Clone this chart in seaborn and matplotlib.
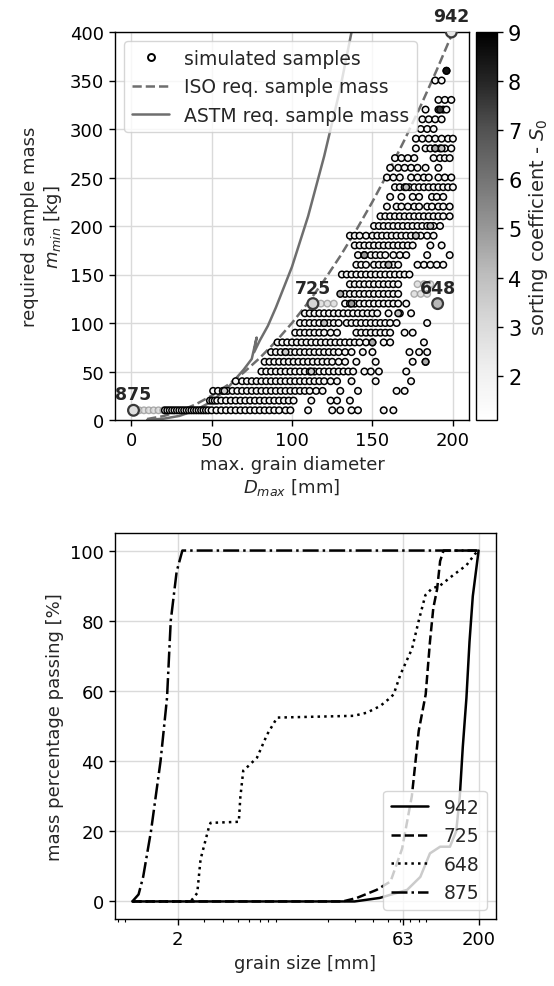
import numpy as np
import pandas as pd
import seaborn as sns
import matplotlib
matplotlib.use("Agg")
import matplotlib.pyplot as plt
from matplotlib.lines import Line2D
from matplotlib.cm import ScalarMappable
from matplotlib.colors import Normalize

# ---------------- data: simulated samples (top panel) ----------------
mass_levels = [10, 20, 30, 40, 50, 60, 70, 80, 90, 100, 110, 120, 130, 140, 150,
               160, 170, 180, 190, 200, 210, 220, 230, 240, 250, 260, 270, 280,
               290, 300, 310, 320, 330, 350, 360]
diameters_by_level = [
    [21, 22.5, 24, 25.5, 27, 28.5, 30, 31.5, 33, 34.5, 36, 37.5, 39, 40.5, 42, 43.5, 45, 46.5, 48,
     50, 53, 56, 59, 62, 65, 68, 71, 74, 77, 80, 83, 86, 89, 92, 96, 99, 110, 125, 130, 137, 141, 157, 163],
    [49, 50.5, 52, 53.5, 56, 59, 62, 65, 68, 71, 74, 77, 80, 83, 86, 89, 92, 95, 98, 101, 112, 124, 128, 136],
    [51, 54, 57, 60, 63, 66, 69, 72, 75, 78, 81, 84, 87, 90, 93, 96, 99, 102, 105, 108, 111, 115, 119, 130, 141, 165, 170],
    [65, 69, 72, 75, 78, 81, 84, 87, 90, 93, 96, 99, 102, 105, 108, 111, 114, 117, 120, 124, 128, 137, 152, 174],
    [81, 84, 87, 90, 93, 96, 99, 102, 105, 108, 111, 114, 117, 120, 123, 126, 129, 132, 135, 138, 145, 149, 154, 171],
    [83, 86, 89, 92, 95, 98, 101, 104, 107, 110, 113, 116, 119, 122, 125, 129, 133, 140, 152, 175, 183],
    [87, 90, 93, 96, 99, 102, 105, 108, 111, 114, 117, 120, 123, 126, 129, 133, 137, 144, 150, 173, 179, 184],
    [91, 94, 97, 100, 103, 106, 109, 112, 115, 118, 121, 124, 127, 130, 133, 136, 139, 142, 146, 150, 157, 161, 182],
    [102, 105, 108, 111, 114, 117, 120, 124, 128, 140, 143, 146, 149, 152, 155, 158, 161, 170, 175],
    [105, 108, 111, 114, 117, 120, 123, 126, 129, 134, 137, 140, 143, 146, 149, 152, 155, 158, 161, 165, 184],
    [108, 111, 114, 117, 120, 123, 126, 129, 132, 135, 138, 141, 144, 147, 150, 153, 160, 167, 174],
    [133, 136, 139, 142, 145, 148, 151, 154, 157, 160, 163, 166, 171],
    [133, 136, 139, 142, 145, 148, 151, 154, 157, 160, 163, 166],
    [136, 139, 142, 145, 148, 151, 154, 157, 160, 163, 166],
    [131, 134, 137, 140, 143, 146, 149, 152, 155, 158, 161, 164, 167, 170, 173],
    [140, 143, 146, 151, 154, 157, 160, 163, 166, 178, 182, 186, 190, 194],
    [141, 145, 149, 152, 155, 158, 163, 167, 171, 184, 198],
    [139, 142, 145, 148, 151, 154, 157, 160, 163, 166, 169, 172, 175, 186, 193],
    [136, 139, 142, 146, 150, 153, 156, 159, 162, 165, 168, 171, 174, 177, 180, 184, 188],
    [151, 154, 157, 160, 163, 166, 169, 172, 175, 178, 181, 184, 188, 192],
    [155, 158, 161, 164, 167, 170, 173, 176, 179, 182, 185, 188, 191, 194, 198],
    [159, 165, 168, 172, 176, 179, 184, 187, 191, 194, 198],
    [161, 168, 175, 179, 187, 190, 194],
    [164, 167, 170, 173, 176, 179, 182, 185, 188, 191, 194, 197, 200],
    [159, 163, 167, 174, 178, 182, 185, 191, 195, 199],
    [161, 166, 170, 174, 178, 183, 191],
    [164, 168, 172, 176, 188, 192, 195, 198],
    [177, 183, 186, 189, 192, 195, 199],
    [177, 181, 185, 189, 193, 197, 200],
    [180, 184, 188],
    [181, 185, 189, 193],
    [183, 191, 194, 196],
    [191, 195, 199],
    [189, 193],
    [196],
]
base_s0 = 1.6

# darker-filled samples (sorting coefficient read from fill shade)
gray_D = [196, 192, 189, 193, 183, 166, 120, 150, 137, 96, 58, 112, 177, 160, 186, 145, 171, 130]
gray_m = [360, 320, 280, 280, 60, 110, 100, 80, 120, 70, 30, 50, 190, 160, 200, 170, 240, 130]
gray_s0 = [8.5, 7.5, 4.5, 4.0, 4.5, 4.0, 4.0, 4.5, 5.0, 3.5, 3.5, 3.5, 4.0, 4.5, 4.0, 5.0, 4.0, 4.5]

# faded samples
faded_D = [5, 8, 11, 14, 17, 20, 118, 122, 126, 176, 180, 184, 178, 182, 186]
faded_m = [10, 10, 10, 10, 10, 10, 120, 120, 120, 130, 130, 130, 140, 140, 140]
faded_s0 = [3, 3, 3, 3, 3, 3, 3, 3, 3, 3, 3, 3, 3, 3, 3]

# highlighted samples
hl_ids = ["942", "725", "648", "875"]
hl_D = [199, 113, 190.5, 1.5]
hl_m = [400, 120, 120, 10]
hl_s0 = [2.5, 3.2, 4.2, 2.8]

# required sample mass lines
iso_D = [10, 20, 30, 40, 50, 60, 70, 80, 90, 100, 110, 120, 130, 140, 150, 160, 170, 180, 190, 200]
iso_m = [1, 4, 9, 16, 25, 36, 49, 64, 81, 100, 121, 144, 169, 196, 225, 256, 289, 324, 361, 400]
astm_D = [10, 20, 30, 40, 50, 60, 70, 75, 78, 76.5, 80, 85, 90, 100, 110, 120, 130, 137]
astm_m = [0.2, 1.3, 4.2, 10, 19, 33, 52, 63, 85, 70, 82, 97, 116, 158, 210, 272, 342, 400]

# ---------------- data: grain size distributions (bottom panel) ----------------
psd_labels = ["942", "725", "648", "875"]
psd_942_x = [1.0, 30, 44, 67, 82, 95, 111, 129, 142, 150, 157, 166, 174, 183, 200]
psd_942_y = [0, 0, 1.0, 3.3, 7, 13.7, 15.6, 15.6, 20, 30, 44, 58, 74, 87, 100]
psd_725_x = [1.0, 25, 31, 42, 52, 62, 72, 80, 89, 95, 100, 106, 111, 117, 200]
psd_725_y = [0, 0, 1, 3.3, 5.7, 15, 30, 48.6, 59, 74, 83.6, 89, 97, 100, 100]
psd_648_x = [1.0, 2.44, 2.7, 2.84, 3.22, 3.31, 5.1, 5.22, 5.46, 5.94, 6.74, 7.87, 9.17,
             29.6, 36.2, 44.4, 50.3, 54.5, 60.5, 72.2, 80, 88.6, 98, 110.8, 135.6, 166, 189, 200]
psd_648_y = [0, 0, 2.4, 12, 21, 22.4, 22.7, 29.7, 37.3, 38.7, 41, 47.6, 52.4,
             52.9, 53.8, 55.7, 57.6, 59, 64.7, 72, 80, 87.3, 89.2, 90, 93, 95.8, 99, 100]
psd_875_x = [1.0, 1.1, 1.18, 1.33, 1.54, 1.7, 1.8, 1.97, 2.15, 200]
psd_875_y = [0, 2, 7, 20, 40, 58, 80, 94, 100, 100]
psd_ticks = [2, 63, 200]

# ---------------- style ----------------
sns.set_theme(style="ticks", rc={
    "axes.grid": True, "grid.color": "#dadada", "grid.linewidth": 1.0,
    "axes.edgecolor": "black", "axes.linewidth": 1.0,
    "xtick.color": "black", "ytick.color": "black",
    "xtick.major.size": 4.5, "ytick.major.size": 4.5,
    "xtick.major.width": 1.0, "ytick.major.width": 1.0,
    "xtick.minor.size": 2.5, "xtick.minor.width": 0.8,
    "xtick.labelsize": 13, "ytick.labelsize": 13, "axes.labelsize": 13,
    "legend.fontsize": 13.5,
})
plt.rcParams["font.family"] = ["DejaVu Sans"]

fig = plt.figure(figsize=(5.54, 9.87), dpi=100)
W, H = 554, 987
def axrect(l, t, r, b):
    return [l / W, 1 - b / H, (r - l) / W, (b - t) / H]

ax1 = fig.add_axes(axrect(115, 33, 469, 421))
cax = fig.add_axes(axrect(476, 33, 497, 421))
ax2 = fig.add_axes(axrect(115, 534, 496, 920))

vmin, vmax = 1.1, 9.0
norm = Normalize(vmin=vmin, vmax=vmax)
cmap = plt.get_cmap("Greys")

rows_D, rows_m = [], []
for m, ds in zip(mass_levels, diameters_by_level):
    rows_D += ds
    rows_m += [m] * len(ds)
df = pd.DataFrame({"D": rows_D, "m": rows_m, "S0": [base_s0] * len(rows_D)})
df_gray = pd.DataFrame({"D": gray_D, "m": gray_m, "S0": gray_s0})
df_faded = pd.DataFrame({"D": faded_D, "m": faded_m, "S0": faded_s0})
df_hl = pd.DataFrame({"D": hl_D, "m": hl_m, "S0": hl_s0})

# lines
sns.lineplot(x=astm_D, y=astm_m, sort=False, estimator=None, ax=ax1, color="#6e6e6e", lw=1.8, zorder=2)
sns.lineplot(x=iso_D, y=iso_m, sort=False, estimator=None, ax=ax1, color="#6e6e6e", lw=1.8,
             linestyle="--", zorder=2)

sns.scatterplot(data=df_faded, x="D", y="m", hue="S0", palette="Greys", hue_norm=norm, ax=ax1,
                s=22, edgecolor="#9a9a9a", linewidth=1.0, alpha=0.8, legend=False, zorder=3)
sns.scatterplot(data=df, x="D", y="m", hue="S0", palette="Greys", hue_norm=norm, ax=ax1,
                s=22, edgecolor="black", linewidth=1.1, legend=False, zorder=3)
sns.scatterplot(data=df_gray, x="D", y="m", hue="S0", palette="Greys", hue_norm=norm, ax=ax1,
                s=22, edgecolor="black", linewidth=1.1, legend=False, zorder=4)
sns.scatterplot(data=df_hl, x="D", y="m", hue="S0", palette="Greys", hue_norm=norm, ax=ax1,
                s=60, edgecolor="#3a3a3a", linewidth=1.6, legend=False, zorder=5)
for lab, d, m in zip(hl_ids, hl_D, hl_m):
    ax1.annotate(lab, (d, m), xytext=(0, 5), textcoords="offset points", ha="center", va="bottom",
                 fontsize=12.5, fontweight="bold", annotation_clip=False, zorder=6)

ax1.set_xlim(-10, 210)
ax1.set_ylim(0, 400)
ax1.set_xticks([0, 50, 100, 150, 200])
ax1.set_yticks(range(0, 401, 50))
ax1.set_xlabel("max. grain diameter\n$D_{max}$ [mm]")
ax1.set_ylabel("required sample mass\n$m_{min}$ [kg]")
for s in ax1.spines.values():
    s.set_visible(True)

handles = [
    Line2D([], [], marker="o", ls="none", markerfacecolor="white", markeredgecolor="black",
           markeredgewidth=1.4, markersize=5),
    Line2D([], [], color="#6e6e6e", lw=1.8, ls="--"),
    Line2D([], [], color="#6e6e6e", lw=1.8),
]
ax1.legend(handles, ["simulated samples", "ISO req. sample mass", "ASTM req. sample mass"],
           loc="upper left", framealpha=0.8, fontsize=13.5)

sm = ScalarMappable(norm=norm, cmap=cmap)
cb = fig.colorbar(sm, cax=cax)
cb.set_ticks(range(2, 10))
cb.ax.tick_params(labelsize=15, length=4.5, width=1.0)
cb.set_label("sorting coefficient - $S_0$", fontsize=14)
cb.outline.set_linewidth(1.0)

# bottom panel
styles = ["-", "--", ":", "-."]
xs = [psd_942_x, psd_725_x, psd_648_x, psd_875_x]
ys = [psd_942_y, psd_725_y, psd_648_y, psd_875_y]
for lab, ls, x, y in zip(psd_labels, styles, xs, ys):
    sns.lineplot(x=x, y=y, sort=False, estimator=None, ax=ax2, color="black", lw=1.8,
                 linestyle=ls, label=lab)
ax2.set_xscale("log")
ax2.set_xlim(0.767, 261)
ax2.set_ylim(-5, 105)
ax2.set_xticks(psd_ticks)
ax2.set_xticklabels([str(t) for t in psd_ticks])
ax2.set_yticks(range(0, 101, 20))
ax2.set_xlabel("grain size [mm]")
ax2.set_ylabel("mass percentage passing [%]")
ax2.grid(True, which="major")
ax2.legend(loc="lower right", framealpha=0.8, fontsize=13.5)
for s in ax2.spines.values():
    s.set_visible(True)

fig.savefig("out.png", dpi=100)
